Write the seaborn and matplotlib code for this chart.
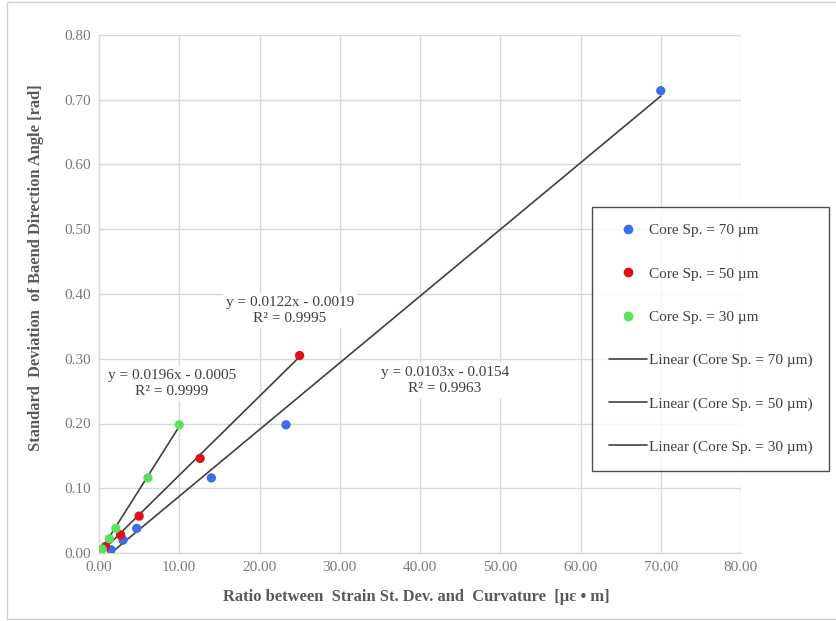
import numpy as np
import pandas as pd
import matplotlib
matplotlib.use("Agg")
import matplotlib.pyplot as plt
from matplotlib.lines import Line2D
from matplotlib.patches import Rectangle
import seaborn as sns

# Measured points per core spacing
x70 = [1.5, 3.0, 4.7, 14.0, 23.3, 70.0]
y70 = [0.005, 0.020, 0.038, 0.116, 0.198, 0.714]
x50 = [0.8, 2.7, 5.0, 12.6, 25.0]
y50 = [0.010, 0.028, 0.057, 0.146, 0.305]
x30 = [0.4, 1.3, 2.1, 6.1, 10.0]
y30 = [0.006, 0.022, 0.038, 0.116, 0.198]

# Linear trend coefficients (slope, intercept, R²)
fit70 = (0.0103, -0.0154, 0.9963)
fit50 = (0.0122, -0.0019, 0.9995)
fit30 = (0.0196, -0.0005, 0.9999)

series = ["Core Sp. = 70 µm", "Core Sp. = 50 µm", "Core Sp. = 30 µm"]
colors = ["#3d6fe3", "#e01018", "#5be25b"]

xs = [x70, x50, x30]
ys = [y70, y50, y30]
fits = [fit70, fit50, fit30]

df = pd.concat(
    [pd.DataFrame({"x": x, "y": y, "series": s}) for x, y, s in zip(xs, ys, series)],
    ignore_index=True,
)

sns.set_theme(style="whitegrid")
plt.rcParams["font.family"] = ["Liberation Serif", "DejaVu Serif"]

fig = plt.figure(figsize=(8.36, 6.21), dpi=100)
ax = fig.add_axes([99 / 836, 1 - 553 / 621, (741 - 99) / 836, (553 - 35) / 621])

# Trend lines from stated coefficients
line_rows = []
for x, s, (m, b, _) in zip(xs, series, fits):
    xx = np.array([min(x), max(x)])
    line_rows.append(pd.DataFrame({"x": xx, "y": m * xx + b, "series": "Linear (" + s + ")"}))
lines_df = pd.concat(line_rows, ignore_index=True)
sns.lineplot(data=lines_df, x="x", y="y", units="series", estimator=None,
             color="#404040", linewidth=1.2, ax=ax, legend=False, zorder=2)

sns.scatterplot(data=df, x="x", y="y", hue="series", palette=colors,
                s=45, edgecolor="none", ax=ax, legend=False, zorder=3)

ax.set_xlim(0, 80)
ax.set_ylim(0, 0.80)
ax.set_xticks(np.arange(0, 81, 10))
ax.set_yticks(np.arange(0, 0.81, 0.1))
ax.set_xticklabels([f"{v:.2f}" for v in np.arange(0, 81, 10)])
ax.set_yticklabels([f"{v:.2f}" for v in np.arange(0, 0.81, 0.1)])
ax.tick_params(axis="both", labelsize=11, labelcolor="#7a7a7a", length=0, pad=6)
ax.grid(True, color="#d9d9d9", linewidth=1)
for side in ["top", "right"]:
    ax.spines[side].set_visible(False)
for side in ["left", "bottom"]:
    ax.spines[side].set_color("#d9d9d9")
    ax.spines[side].set_linewidth(1)

ax.set_xlabel("Ratio between  Strain St. Dev. and  Curvature  [με • m]",
              fontsize=11.9, fontweight="bold", color="#595959")
ax.set_ylabel("Standard  Deviation  of Baend Direction Angle [rad]",
              fontsize=11.9, fontweight="bold", color="#595959")
ax.xaxis.set_label_coords(0.494, -0.070)
ax.yaxis.set_label_coords(-0.085, 0.55)

# Equation annotations
label_pos = [(43.1, 0.267), (23.8, 0.374), (9.1, 0.262)]
for (m, b, r2), (lx, ly) in zip(fits, label_pos):
    sign = "-" if b < 0 else "+"
    txt = f"y = {m:.4f}x {sign} {abs(b):.4f}\nR² = {r2:.4f}"
    ax.text(lx, ly, txt, ha="center", va="center", fontsize=11, color="#404040",
            linespacing=1.3, zorder=4,
            bbox=dict(boxstyle="square,pad=0.2", facecolor="white", edgecolor="none"))

# Legend
handles = [Line2D([], [], marker="o", linestyle="none", color=c, markersize=6) for c in colors]
handles += [Line2D([], [], color="#404040", linewidth=1.2) for _ in series]
labels = series + ["Linear (" + s + ")" for s in series]
leg = fig.legend(handles, labels, loc="upper left",
                 bbox_to_anchor=(592 / 836, 1 - 207 / 621), borderaxespad=0,
                 fontsize=11, labelspacing=1.93, handlelength=2.5, handletextpad=0.1,
                 borderpad=1.1, frameon=True, fancybox=False, labelcolor="#404040")
leg.get_frame().set_edgecolor("#202020")
leg.get_frame().set_linewidth(1.0)

# Chart outline
fig.patches.append(Rectangle((7 / 836, 2 / 621), 840 / 836, 617 / 621, transform=fig.transFigure,
                             fill=False, edgecolor="#d0d0d0", linewidth=1))

fig.savefig("out.png", dpi=100)
